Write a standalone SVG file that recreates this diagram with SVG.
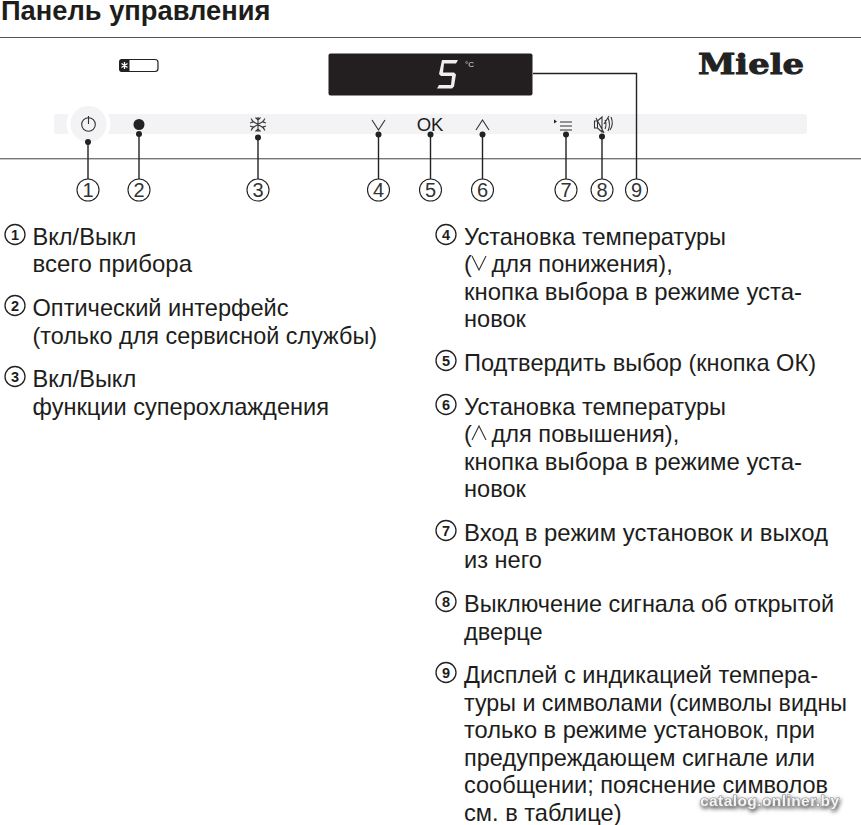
<svg xmlns="http://www.w3.org/2000/svg" width="861" height="825" viewBox="0 0 861 825">
<style>
text{font-family:"Liberation Sans",Arial,sans-serif;fill:#1d1d1b}
.b{font-size:23.6px}
.t{font-size:27.300px;font-weight:bold}
.n{font-size:20px;text-anchor:middle;fill:#333}
.s{font-size:14.5px;font-weight:bold;text-anchor:middle}
.c{fill:#fff;stroke:#222;stroke-width:1.1}
.sc{fill:#fff;stroke:#222;stroke-width:1.3}
.l{stroke:#222;stroke-width:1.4;fill:none}
.d{fill:#222}
.i{stroke:#333;stroke-width:1.1;fill:none}
</style>
<defs><filter id="shadow" x="-10%" y="-50%" width="120%" height="200%"><feDropShadow dx="1" dy="2" stdDeviation="2" flood-color="#000" flood-opacity=".7"/></filter></defs>
<rect width="861" height="825" fill="#fff"/>
<g id="header"><text class="t" x="1" y="20">Панель управления</text>
<rect x="0" y="37" width="861" height="1" fill="#555"/></g>
<g id="panel">
<rect x="54" y="114" width="753" height="20" rx="3" fill="#f3f3f5"/>
<circle cx="88.500" cy="124" r="22" fill="#fff"/>
<circle cx="88.500" cy="124" r="18" fill="#f3f3f5"/>
<rect x="0" y="158" width="861" height="1.4" fill="#777"/>
</g>
<g id="indicator"><rect x="120" y="59.500" width="38" height="12" rx="3" fill="#fff" stroke="#222" stroke-width="1.200"/><path d="M122 59h7.500v13h-7.500a3 3 0 0 1-3-3v-7a3 3 0 0 1 3-3z" fill="#222"/><path d="M124.500 62v7M121.500 63.500l6 4M127.500 63.500l-6 4" stroke="#fff" stroke-width="1.300"/></g>
<g id="display"><rect x="328.500" y="53.500" width="204" height="42" rx="2" fill="#231f20"/>
<path d="M442 60h16l-2 3.500h-12l-1 9h11l2 2-2 12-2 2h-15l2-3.500h12l1-9h-11l-2-2z" fill="#eee"/>
<text x="469.500" y="67" font-size="8" text-anchor="middle" style="fill:#ddd">°C</text></g>
<g id="logo"><text x="698" y="74" font-size="27" font-weight="bold" textLength="106" lengthAdjust="spacingAndGlyphs" style="font-family:'DejaVu Serif',serif;fill:#222;stroke:#222;stroke-width:.9">Miele</text></g>
<g id="connectors">
<path class="l" d="M88 142V179M139 134V179M258 137V179M378.500 134V179M430.500 134V179M482.500 134V179M566 134V179M602 136V179M533 73.500H636.500V179"/>
<g class="d"><circle cx="88" cy="142" r="3"/><circle cx="139" cy="134" r="3"/><circle cx="258" cy="137.500" r="3"/><circle cx="378.500" cy="134.500" r="3"/><circle cx="430.500" cy="134.500" r="3"/><circle cx="482.500" cy="134.500" r="3"/><circle cx="566" cy="134.500" r="3"/><circle cx="602" cy="136.500" r="3"/></g>
</g>
<g id="btn-power"><circle class="i" cx="88.500" cy="124.500" r="6.800"/><path class="i" d="M88.500 116V124"/></g>
<g id="btn-optical"><circle class="d" cx="139" cy="124.500" r="5.500"/></g>
<g id="btn-super"><path class="i" d="M258 117V132M251.500 120.500L264.500 128.500M264.500 120.500L251.500 128.500M255.500 117.500l2.500 2.500 2.500-2.500M255.500 131.500l2.500-2.500 2.500 2.500M251 118.500l2.500 3.500-3.500 1M265 118.500l-2.500 3.500 3.500 1M251 130.500l2.500-3.500-3.500-1M265 130.500l-2.500-3.500 3.500-1"/></g>
<g id="btn-down"><path class="i" d="M372 120L378.500 130L385 120"/></g>
<g id="btn-ok"><text x="430" y="131" font-size="18.500" text-anchor="middle">OK</text></g>
<g id="btn-up"><path class="i" d="M476 130L482.500 120L489 130"/></g>
<g id="btn-menu"><path d="M554 119.500l3 2-3 2z" fill="#222"/><path class="i" d="M560 122H572M560 126H572M560 130H572"/></g>
<g id="btn-mute"><path class="i" d="M594.500 121h3l4.500-4v15l-4.500-4h-3zM597.500 121v7M596 118l8 15M605 120q2 4.500 0 9M608 118q3 6.500 0 13M611 117q3 7-1 13M609 116l-5 8"/></g>
<g id="n1"><circle class="c" cx="88" cy="190" r="11"/><text class="n" x="88" y="197">1</text></g>
<g id="n2"><circle class="c" cx="139" cy="190" r="11"/><text class="n" x="139" y="197">2</text></g>
<g id="n3"><circle class="c" cx="258" cy="190" r="11"/><text class="n" x="258" y="197">3</text></g>
<g id="n4"><circle class="c" cx="378.500" cy="190" r="11"/><text class="n" x="378.500" y="197">4</text></g>
<g id="n5"><circle class="c" cx="430.500" cy="190" r="11"/><text class="n" x="430.500" y="197">5</text></g>
<g id="n6"><circle class="c" cx="482.500" cy="190" r="11"/><text class="n" x="482.500" y="197">6</text></g>
<g id="n7"><circle class="c" cx="566" cy="190" r="11"/><text class="n" x="566" y="197">7</text></g>
<g id="n8"><circle class="c" cx="602" cy="190" r="11"/><text class="n" x="602" y="197">8</text></g>
<g id="n9"><circle class="c" cx="636.500" cy="190" r="11"/><text class="n" x="636.500" y="197">9</text></g>
<g id="item1"><circle class="sc" cx="15" cy="234.500" r="10"/><text class="s" x="15" y="240">1</text><text class="b" x="32.500" y="244.500">Вкл/Выкл</text><text class="b" x="32.500" y="272" textLength="159.500" lengthAdjust="spacingAndGlyphs">всего прибора</text></g>
<g id="item2"><circle class="sc" cx="15" cy="305.500" r="10"/><text class="s" x="15" y="311">2</text><text class="b" x="32.500" y="315.500">Оптический интерфейс</text><text class="b" x="32.500" y="343.500" textLength="344.500" lengthAdjust="spacingAndGlyphs">(только для сервисной службы)</text></g>
<g id="item3"><circle class="sc" cx="15" cy="376.500" r="10"/><text class="s" x="15" y="382">3</text><text class="b" x="32.500" y="386.500">Вкл/Выкл</text><text class="b" x="32.500" y="414.500" textLength="296.500" lengthAdjust="spacingAndGlyphs">функции суперохлаждения</text></g>
<g id="item4"><circle class="sc" cx="446" cy="234.500" r="10"/><text class="s" x="446" y="240">4</text><text class="b" x="464" y="244.500" textLength="262" lengthAdjust="spacingAndGlyphs">Установка температуры</text><text class="b" x="464" y="272">(</text><path class="i" d="M472 256L479 270L486 256" stroke-width="1.300"/><text class="b" x="491.500" y="272">для понижения),</text><text class="b" x="464" y="299.500" textLength="338" lengthAdjust="spacingAndGlyphs">кнопка выбора в режиме уста-</text><text class="b" x="464" y="327">новок</text></g>
<g id="item5"><circle class="sc" cx="446" cy="360.500" r="10"/><text class="s" x="446" y="366">5</text><text class="b" x="464" y="370.500" textLength="352" lengthAdjust="spacingAndGlyphs">Подтвердить выбор (кнопка ОК)</text></g>
<g id="item6"><circle class="sc" cx="446" cy="404.500" r="10"/><text class="s" x="446" y="410">6</text><text class="b" x="464" y="414.500" textLength="262" lengthAdjust="spacingAndGlyphs">Установка температуры</text><text class="b" x="464" y="442">(</text><path class="i" d="M472 440L479 426L486 440" stroke-width="1.300"/><text class="b" x="491.500" y="442">для повышения),</text><text class="b" x="464" y="469.500" textLength="338" lengthAdjust="spacingAndGlyphs">кнопка выбора в режиме уста-</text><text class="b" x="464" y="497">новок</text></g>
<g id="item7"><circle class="sc" cx="446" cy="530.500" r="10"/><text class="s" x="446" y="536">7</text><text class="b" x="464" y="540.500" textLength="364" lengthAdjust="spacingAndGlyphs">Вход в режим установок и выход</text><text class="b" x="464" y="568">из него</text></g>
<g id="item8"><circle class="sc" cx="446" cy="601.500" r="10"/><text class="s" x="446" y="607">8</text><text class="b" x="464" y="611.500" textLength="370" lengthAdjust="spacingAndGlyphs">Выключение сигнала об открытой</text><text class="b" x="464" y="639.500">дверце</text></g>
<g id="item9"><circle class="sc" cx="446" cy="672.500" r="10"/><text class="s" x="446" y="678">9</text><text class="b" x="464" y="682.500" textLength="354" lengthAdjust="spacingAndGlyphs">Дисплей с индикацией темпера-</text><text class="b" x="464" y="710.500" textLength="383" lengthAdjust="spacingAndGlyphs">туры и символами (символы видны</text><text class="b" x="464" y="738" textLength="351" lengthAdjust="spacingAndGlyphs">только в режиме установок, при</text><text class="b" x="464" y="765.500" textLength="351" lengthAdjust="spacingAndGlyphs">предупреждающем сигнале или</text><text class="b" x="464" y="793" textLength="364" lengthAdjust="spacingAndGlyphs">сообщении; пояснение символов</text><text class="b" x="464" y="820.500">см. в таблице)</text></g>
<g id="watermark"><text x="700" y="806" font-size="15.500" textLength="139" filter="url(#shadow)" style="fill:#f4f4f4;font-weight:bold;stroke:#888;stroke-width:1.200;paint-order:stroke">catalog.onliner.by</text></g>
</svg>
